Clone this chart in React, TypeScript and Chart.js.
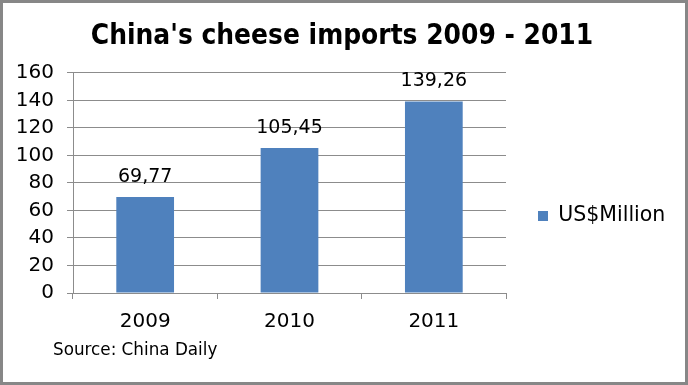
import React, { useEffect, useRef } from "react";
import { Chart, registerables } from "chart.js";

Chart.register(...registerables);

const categories = ["2009", "2010", "2011"];
const seriesName = "US$Million";
const values = [69.77, 105.45, 139.26];
const titleText = "China's cheese imports 2009 - 2011";
const sourceText = "Source: China Daily";
const yMin = 0;
const yMax = 160;
const yStep = 20;

const FONT = "'DejaVu Sans', Verdana, sans-serif";
const GRID = "#8c8c8c";
const BAR = "#4f81bd";

const decorPlugin = {
  id: "decor",
  afterDatasetsDraw(chart: any) {
    const ctx = chart.ctx;
    const meta = chart.getDatasetMeta(0);
    ctx.save();
    ctx.fillStyle = "#000";
    ctx.font = `19px ${FONT}`;
    ctx.textAlign = "center";
    ctx.textBaseline = "middle";
    meta.data.forEach((el: any, i: number) => {
      const v = chart.data.datasets[0].data[i] as number;
      ctx.fillText(v.toFixed(2).replace(".", ","), el.x, el.y - 20);
    });
    ctx.restore();
  },
  afterDraw(chart: any) {
    const ctx = chart.ctx;
    ctx.save();
    ctx.fillStyle = "#000";
    ctx.font = `16.8px ${FONT}`;
    ctx.textAlign = "left";
    ctx.textBaseline = "middle";
    ctx.fillText(sourceText, 53, 351);
    ctx.strokeStyle = "#878787";
    ctx.lineWidth = 3;
    ctx.strokeRect(1.5, 1.5, chart.width - 3, chart.height - 3);
    ctx.restore();
  },
};

export default function App() {
  const ref = useRef<HTMLCanvasElement>(null);
  useEffect(() => {
    const canvas = ref.current!;
    const chart = new Chart(canvas, {
      type: "bar",
      data: {
        labels: categories,
        datasets: [
          {
            label: seriesName,
            data: values,
            backgroundColor: BAR,
            borderWidth: 0,
            categoryPercentage: 1,
            barPercentage: 0.4,
          },
        ],
      },
      options: {
        responsive: false,
        animation: false,
        devicePixelRatio: 1,
        layout: { padding: { left: 14, right: 18, top: 0, bottom: 26 } },
        plugins: {
          title: {
            display: true,
            text: titleText,
            color: "#000",
            font: { family: "'DejaVu Sans Condensed', 'DejaVu Sans', sans-serif", size: 27.8, weight: "bold", lineHeight: 1.2 },
            padding: { top: 20, bottom: 19.6 },
          },
          legend: {
            display: true,
            position: "right",
            title: {
              display: true,
              text: "",
              font: { size: 10, lineHeight: 1.2 },
              padding: { top: 61, bottom: 0 },
            },
            labels: {
              boxWidth: 10,
              boxHeight: 10,
              padding: 32,
              color: "#000",
              font: { family: FONT, size: 20.5, lineHeight: 1.2 },
            },
          },
          tooltip: { enabled: false },
        },
        scales: {
          x: {
            grid: {
              offset: true,
              drawOnChartArea: false,
              drawTicks: true,
              tickLength: 6,
              color: GRID,
            },
            border: { color: GRID, width: 1 },
            ticks: {
              color: "#000",
              padding: 11,
              font: { family: FONT, size: 20, lineHeight: 1.2 },
            },
            afterFit(scale: any) {
              scale.height = 66;
            },
          },
          y: {
            min: yMin,
            max: yMax,
            grid: { color: GRID, tickLength: 6 },
            border: { color: GRID, width: 1 },
            ticks: {
              stepSize: yStep,
              color: "#000",
              padding: 13,
              font: { family: FONT, size: 20, lineHeight: 1.2 },
            },
            afterFit(scale: any) {
              scale.width = 59;
            },
          },
        },
      },
      plugins: [decorPlugin],
    });
    return () => chart.destroy();
  }, []);
  return (
    <div style={{ position: "fixed", left: 0, top: 0, width: 688, height: 385, background: "#fff" }}>
      <canvas ref={ref} width={688} height={385} />
    </div>
  );
}
